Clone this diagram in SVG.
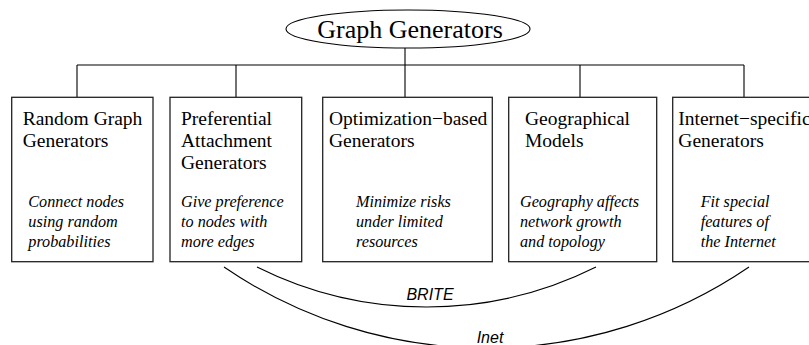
<svg xmlns="http://www.w3.org/2000/svg" width="809" height="345" viewBox="0 0 809 345">
<style>
.box{fill:#fff;stroke:#222;stroke-width:1.3}
.t{font-family:"Liberation Serif",serif;font-size:19.5px;fill:#000}
.i{font-family:"Liberation Serif",serif;font-size:16.2px;font-style:italic;fill:#000}
.c{fill:none;stroke:#000;stroke-width:1.1}
.lab{font-family:"Liberation Sans",sans-serif;font-size:16px;font-style:italic;fill:#000}
</style>
<rect width="809" height="345" fill="#fff"/>
<g id="connectors">
<path class="c" d="M405,48V65M77,65H744M77,65V97M236,65V97M405,65V97M580,65V97M744,65V97"/>
<path class="c" d="M257,267A379,379 0 0 0 596,267"/>
<path class="c" d="M224,267A465.6,465.6 0 0 0 749,267"/>
<text class="lab" x="430" y="300" text-anchor="middle">BRITE</text>
<text class="lab" x="490" y="343" text-anchor="middle">Inet</text>
</g>
<g id="root">
<ellipse cx="408" cy="29" rx="122" ry="19" fill="#fff" stroke="#000" stroke-width="1.1"/>
<text x="410" y="38" text-anchor="middle" style="font-family:'Liberation Serif',serif;font-size:26px">Graph Generators</text>
</g>
<g id="random">
<rect class="box" x="11.7" y="97.3" width="141.3" height="164.4"/>
<text class="t" x="22.7" y="125">Random Graph</text>
<text class="t" x="22.7" y="147">Generators</text>
<text class="i" x="28.3" y="207">Connect nodes</text>
<text class="i" x="28.3" y="227">using random</text>
<text class="i" x="28.3" y="247">probabilities</text>
</g>
<g id="preferential">
<rect class="box" x="170" y="97.3" width="131.7" height="164.4"/>
<text class="t" x="181" y="125">Preferential</text>
<text class="t" x="181" y="147">Attachment</text>
<text class="t" x="181" y="169">Generators</text>
<text class="i" x="181" y="207">Give preference</text>
<text class="i" x="181" y="227">to nodes with</text>
<text class="i" x="181" y="247">more edges</text>
</g>
<g id="optimization">
<rect class="box" x="322.7" y="97.3" width="169.6" height="164.4"/>
<text class="t" x="329" y="125">Optimization−based</text>
<text class="t" x="329" y="147">Generators</text>
<text class="i" x="356" y="207">Minimize risks</text>
<text class="i" x="356" y="227">under limited</text>
<text class="i" x="356" y="247">resources</text>
</g>
<g id="geographical">
<rect class="box" x="508.7" y="97.3" width="148" height="164.4"/>
<text class="t" x="525" y="125">Geographical</text>
<text class="t" x="525" y="147">Models</text>
<text class="i" x="520" y="207">Geography affects</text>
<text class="i" x="520" y="227">network growth</text>
<text class="i" x="520" y="247">and topology</text>
</g>
<g id="internet">
<rect class="box" x="672.7" y="97.3" width="150" height="164.4"/>
<text class="t" x="678.3" y="125">Internet−specific</text>
<text class="t" x="678.3" y="147">Generators</text>
<text class="i" x="700.7" y="207">Fit special</text>
<text class="i" x="700.7" y="227">features of</text>
<text class="i" x="700.7" y="247">the Internet</text>
</g>
</svg>
